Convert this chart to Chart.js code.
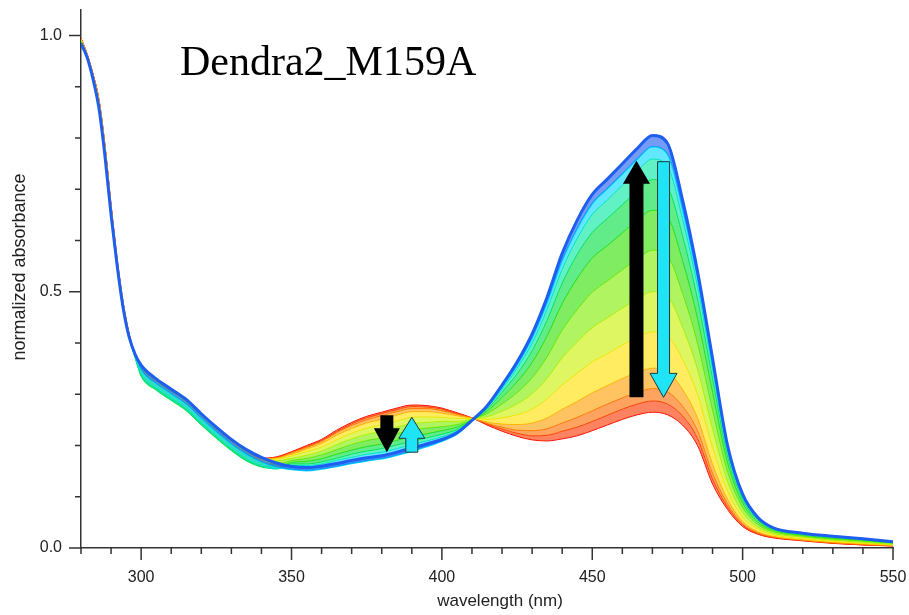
<!DOCTYPE html>
<html>
<head>
<meta charset="utf-8">
<script src="https://cdn.jsdelivr.net/npm/chart.js@4.4.1/dist/chart.umd.min.js"></script>
<style>
  html, body { margin: 0; padding: 0; background: #fff; }
  #wrap { position: relative; width: 909px; height: 615px; }
</style>
</head>
<body>
<div id="wrap"><canvas id="spectra"></canvas></div>
<script>
// wavelength grid (nm)
const wavelength = [280, 282, 284, 286, 288, 290, 292, 294, 296, 298,
  300, 305, 310, 315, 320, 325, 330, 335, 340, 345, 350, 355, 360, 365, 370,
  375, 380, 385, 390, 395, 400, 405, 410, 415, 420, 425, 430, 435, 440, 445,
  450, 455, 460, 465, 470, 475, 480, 485, 490, 495, 500, 505, 510,
  520, 530, 540, 550];

// normalized absorbance, first scan (red) to last scan (blue)
const scan00 = [0.995, 0.965, 0.925, 0.875, 0.785, 0.670, 0.565, 0.480, 0.418, 0.378,
  0.354, 0.327, 0.307, 0.287, 0.259, 0.233, 0.209, 0.189, 0.175, 0.178,
  0.188, 0.200, 0.212, 0.230, 0.245, 0.257, 0.265, 0.273, 0.279, 0.278, 0.273, 0.264,
  0.254, 0.240, 0.228, 0.218, 0.211, 0.209, 0.213, 0.219, 0.229, 0.240, 0.251, 0.260, 0.265, 0.260,
  0.240, 0.200, 0.125, 0.075, 0.042, 0.027, 0.020, 0.014, 0.009, 0.006, 0.004];
const scan01 = [0.995, 0.965, 0.925, 0.874, 0.784, 0.669, 0.564, 0.480, 0.418, 0.378,
  0.354, 0.327, 0.307, 0.287, 0.259, 0.233, 0.209, 0.189, 0.175, 0.177,
  0.187, 0.198, 0.210, 0.227, 0.242, 0.254, 0.262, 0.270, 0.276, 0.275, 0.271, 0.262,
  0.254, 0.242, 0.232, 0.224, 0.219, 0.220, 0.228, 0.236, 0.247, 0.259, 0.271, 0.281, 0.287, 0.281,
  0.258, 0.214, 0.135, 0.080, 0.045, 0.028, 0.021, 0.015, 0.010, 0.006, 0.004];
const scan02 = [0.994, 0.964, 0.924, 0.873, 0.783, 0.668, 0.564, 0.479, 0.417, 0.378,
  0.354, 0.327, 0.307, 0.287, 0.259, 0.233, 0.209, 0.189, 0.174, 0.176,
  0.186, 0.196, 0.208, 0.225, 0.239, 0.250, 0.258, 0.266, 0.272, 0.272, 0.268, 0.261,
  0.254, 0.243, 0.236, 0.230, 0.229, 0.233, 0.244, 0.255, 0.268, 0.281, 0.293, 0.304, 0.311, 0.305,
  0.277, 0.229, 0.146, 0.086, 0.047, 0.030, 0.022, 0.015, 0.010, 0.007, 0.005];
const scan03 = [0.993, 0.964, 0.923, 0.872, 0.781, 0.667, 0.563, 0.478, 0.417, 0.378,
  0.354, 0.327, 0.307, 0.287, 0.259, 0.233, 0.209, 0.189, 0.174, 0.175,
  0.183, 0.193, 0.204, 0.220, 0.233, 0.244, 0.251, 0.259, 0.266, 0.266, 0.263, 0.258,
  0.253, 0.246, 0.242, 0.241, 0.244, 0.254, 0.271, 0.286, 0.303, 0.317, 0.331, 0.343, 0.351, 0.345,
  0.310, 0.254, 0.164, 0.095, 0.052, 0.032, 0.023, 0.016, 0.011, 0.008, 0.005];
const scan04 = [0.992, 0.963, 0.922, 0.870, 0.779, 0.664, 0.561, 0.477, 0.416, 0.378,
  0.354, 0.327, 0.307, 0.287, 0.259, 0.233, 0.209, 0.189, 0.173, 0.173,
  0.180, 0.188, 0.197, 0.211, 0.224, 0.234, 0.240, 0.248, 0.255, 0.256, 0.255, 0.253,
  0.253, 0.251, 0.254, 0.260, 0.271, 0.291, 0.318, 0.341, 0.363, 0.379, 0.396, 0.411, 0.422, 0.414,
  0.368, 0.299, 0.196, 0.111, 0.060, 0.037, 0.026, 0.018, 0.013, 0.009, 0.006];
const scan05 = [0.991, 0.962, 0.921, 0.867, 0.775, 0.661, 0.559, 0.475, 0.415, 0.378,
  0.354, 0.327, 0.307, 0.287, 0.259, 0.233, 0.209, 0.189, 0.171, 0.170,
  0.175, 0.181, 0.189, 0.202, 0.213, 0.222, 0.228, 0.236, 0.243, 0.245, 0.247, 0.247,
  0.252, 0.256, 0.267, 0.281, 0.301, 0.331, 0.371, 0.402, 0.430, 0.449, 0.468, 0.486, 0.500, 0.491,
  0.431, 0.348, 0.232, 0.129, 0.069, 0.041, 0.029, 0.021, 0.015, 0.011, 0.007];
const scan06 = [0.989, 0.961, 0.919, 0.864, 0.772, 0.658, 0.557, 0.474, 0.414, 0.376,
  0.347, 0.320, 0.300, 0.280, 0.252, 0.226, 0.202, 0.182, 0.166, 0.164,
  0.171, 0.175, 0.182, 0.192, 0.202, 0.210, 0.215, 0.223, 0.230, 0.234, 0.237, 0.241,
  0.251, 0.262, 0.281, 0.303, 0.332, 0.373, 0.425, 0.465, 0.499, 0.521, 0.543, 0.564, 0.581, 0.570,
  0.497, 0.399, 0.268, 0.148, 0.079, 0.046, 0.032, 0.023, 0.017, 0.013, 0.009];
const scan07 = [0.988, 0.960, 0.918, 0.862, 0.769, 0.655, 0.556, 0.472, 0.413, 0.372,
  0.337, 0.310, 0.290, 0.270, 0.242, 0.216, 0.192, 0.172, 0.160, 0.158,
  0.167, 0.169, 0.174, 0.183, 0.191, 0.198, 0.203, 0.210, 0.218, 0.223, 0.229, 0.236,
  0.250, 0.267, 0.294, 0.324, 0.362, 0.414, 0.477, 0.526, 0.566, 0.590, 0.615, 0.640, 0.659, 0.647,
  0.561, 0.448, 0.304, 0.166, 0.088, 0.051, 0.035, 0.025, 0.019, 0.015, 0.010];
const scan08 = [0.987, 0.959, 0.917, 0.860, 0.767, 0.653, 0.554, 0.471, 0.412, 0.371,
  0.335, 0.308, 0.288, 0.268, 0.240, 0.214, 0.190, 0.170, 0.158, 0.155,
  0.164, 0.164, 0.168, 0.175, 0.183, 0.189, 0.194, 0.201, 0.208, 0.215, 0.222, 0.231,
  0.250, 0.271, 0.304, 0.340, 0.385, 0.445, 0.517, 0.573, 0.616, 0.643, 0.670, 0.697, 0.719, 0.705,
  0.610, 0.486, 0.331, 0.180, 0.095, 0.055, 0.037, 0.027, 0.021, 0.016, 0.011];
const scan09 = [0.986, 0.959, 0.916, 0.859, 0.765, 0.652, 0.553, 0.470, 0.412, 0.372,
  0.339, 0.312, 0.292, 0.272, 0.244, 0.218, 0.194, 0.174, 0.160, 0.154,
  0.161, 0.161, 0.164, 0.171, 0.177, 0.183, 0.187, 0.194, 0.202, 0.209, 0.217, 0.228,
  0.249, 0.274, 0.310, 0.351, 0.400, 0.466, 0.544, 0.604, 0.651, 0.679, 0.708, 0.736, 0.759, 0.745,
  0.643, 0.511, 0.349, 0.189, 0.100, 0.057, 0.038, 0.028, 0.022, 0.017, 0.011];
const scan10 = [0.985, 0.958, 0.915, 0.858, 0.764, 0.651, 0.553, 0.469, 0.412, 0.376,
  0.348, 0.321, 0.301, 0.281, 0.253, 0.227, 0.203, 0.183, 0.168, 0.158,
  0.153, 0.151, 0.154, 0.159, 0.165, 0.170, 0.174, 0.181, 0.189, 0.198, 0.208, 0.222,
  0.248, 0.276, 0.314, 0.357, 0.410, 0.479, 0.561, 0.623, 0.672, 0.701, 0.730, 0.759, 0.783, 0.769,
  0.662, 0.526, 0.360, 0.195, 0.103, 0.059, 0.039, 0.028, 0.022, 0.018, 0.012];
const scan11 = [0.985, 0.958, 0.915, 0.857, 0.763, 0.650, 0.552, 0.469, 0.412, 0.378,
  0.357, 0.330, 0.310, 0.290, 0.262, 0.236, 0.212, 0.192, 0.177, 0.166,
  0.159, 0.157, 0.160, 0.165, 0.171, 0.176, 0.180, 0.187, 0.195, 0.203, 0.212, 0.225,
  0.249, 0.277, 0.318, 0.363, 0.418, 0.490, 0.575, 0.640, 0.690, 0.720, 0.750, 0.780, 0.805, 0.790,
  0.680, 0.540, 0.370, 0.200, 0.105, 0.060, 0.040, 0.029, 0.023, 0.018, 0.012];

const scans = [scan00, scan01, scan02, scan03, scan04, scan05,
               scan06, scan07, scan08, scan09, scan10, scan11];
const scanColors = ['#ff0000', '#ff3500', '#ff6a00', '#ffa000', '#ffe000', '#c8f000',
                    '#80ee00', '#30e000', '#00e040', '#00e8a0', '#00d8ff', '#1e5ef0'];

const xTicks = [300, 350, 400, 450, 500, 550];
const yTicks = [0.0, 0.5, 1.0];

const axisColor = '#333';
const fontFamily = '"Liberation Sans", Arial, sans-serif';

function rgba(hex, a) {
  const n = parseInt(hex.slice(1), 16);
  return `rgba(${n >> 16}, ${(n >> 8) & 255}, ${n & 255}, ${a})`;
}

// last scan first, so it's painted on top; each band fills down to the scan before it
const datasets = scans.map((ys, i) => ({
  data: wavelength.map((w, j) => ({ x: w, y: ys[j] })),
  borderColor: scanColors[i],
  backgroundColor: rgba(scanColors[i], 0.62),
  borderWidth: i === scans.length - 1 ? 3 : (i === scans.length - 2 ? 1.5 : 1),
  fill: i === 0 ? false : '+1',
  pointRadius: 0,
  cubicInterpolationMode: 'monotone'
})).reverse();

// arrows marking the direction of change
const arrows = [
  { at: 381.7, from: 0.259, to: 0.187, shaft: 13, head: 26, headLen: 24, color: '#000', edge: null },
  { at: 390.0, from: 0.187, to: 0.255, shaft: 12, head: 26, headLen: 21, color: '#1ee4f6', edge: '#1d3b40' },
  { at: 464.7, from: 0.294, to: 0.756, shaft: 14, head: 27, headLen: 23, color: '#000', edge: null },
  { at: 473.7, from: 0.754, to: 0.294, shaft: 12, head: 27, headLen: 24, color: '#1ee4f6', edge: '#1d3b40' }
];

const arrowPlugin = {
  id: 'arrows',
  afterDatasetsDraw(chart) {
    const { ctx, scales: { x, y } } = chart;
    ctx.save();
    arrows.forEach(a => {
      const px = x.getPixelForValue(a.at);
      const y0 = y.getPixelForValue(a.from);
      const y1 = y.getPixelForValue(a.to);
      const dir = y1 > y0 ? 1 : -1;
      const base = y1 - dir * a.headLen;
      ctx.beginPath();
      ctx.moveTo(px - a.shaft / 2, y0);
      ctx.lineTo(px - a.shaft / 2, base);
      ctx.lineTo(px - a.head / 2, base);
      ctx.lineTo(px, y1);
      ctx.lineTo(px + a.head / 2, base);
      ctx.lineTo(px + a.shaft / 2, base);
      ctx.lineTo(px + a.shaft / 2, y0);
      ctx.closePath();
      ctx.fillStyle = a.color;
      ctx.fill();
      if (a.edge) {
        ctx.strokeStyle = a.edge;
        ctx.lineWidth = 1;
        ctx.stroke();
      }
    });
    ctx.restore();
  }
};

// major/minor tick marks, axis titles and the sample name
const decorPlugin = {
  id: 'decor',
  afterDraw(chart) {
    const { ctx, chartArea: area, scales: { x, y } } = chart;
    ctx.save();
    ctx.strokeStyle = axisColor;
    ctx.lineWidth = 1.5;
    ctx.beginPath();
    for (let w = 280; w <= 550; w += 10) {
      const px = x.getPixelForValue(w);
      const len = xTicks.includes(w) ? 12 : 6;
      ctx.moveTo(px, area.bottom);
      ctx.lineTo(px, area.bottom + len);
    }
    for (let k = 0; k <= 10; k++) {
      const py = y.getPixelForValue(k / 10);
      const len = k % 5 === 0 ? 12 : 6;
      ctx.moveTo(area.left, py);
      ctx.lineTo(area.left - len, py);
    }
    ctx.stroke();

    ctx.fillStyle = '#222';
    ctx.textAlign = 'center';
    ctx.textBaseline = 'middle';
    ctx.font = `17px ${fontFamily}`;
    ctx.fillText('wavelength (nm)', 500, 601);
    ctx.font = `18px ${fontFamily}`;
    ctx.translate(20, 267);
    ctx.rotate(-Math.PI / 2);
    ctx.fillText('normalized absorbance', 0, 0);
    ctx.restore();

    ctx.save();
    ctx.fillStyle = '#000';
    ctx.font = '42px "Liberation Serif", "Times New Roman", serif';
    ctx.textAlign = 'left';
    ctx.textBaseline = 'alphabetic';
    ctx.fillText('Dendra2_M159A', 180, 75);
    ctx.restore();
  }
};

Chart.defaults.font.family = fontFamily;
Chart.defaults.font.size = 16;
Chart.defaults.color = '#222';

new Chart(document.getElementById('spectra'), {
  type: 'line',
  data: { datasets },
  options: {
    responsive: true,
    maintainAspectRatio: false,
    animation: false,
    layout: { padding: { top: 10, right: 16, left: 0, bottom: 0 } },
    plugins: {
      legend: { display: false },
      tooltip: { enabled: false }
    },
    scales: {
      x: {
        type: 'linear',
        min: 280,
        max: 550,
        afterBuildTicks: s => { s.ticks = xTicks.map(v => ({ value: v })); },
        afterFit: s => { s.height = 67; s.paddingLeft = 0; s.paddingRight = 0; },
        grid: { display: false, drawTicks: false },
        border: { display: true, color: axisColor, width: 1.5 },
        ticks: { padding: 20, maxRotation: 0 }
      },
      y: {
        min: 0,
        max: 1.05,
        afterBuildTicks: s => { s.ticks = yTicks.map(v => ({ value: v })); },
        afterFit: s => { s.width = 81; s.paddingTop = 0; s.paddingBottom = 0; },
        grid: { display: false, drawTicks: false },
        border: { display: true, color: axisColor, width: 1.5 },
        ticks: { padding: 19, callback: v => v.toFixed(1) }
      }
    }
  },
  plugins: [arrowPlugin, decorPlugin]
});
</script>
</body>
</html>
